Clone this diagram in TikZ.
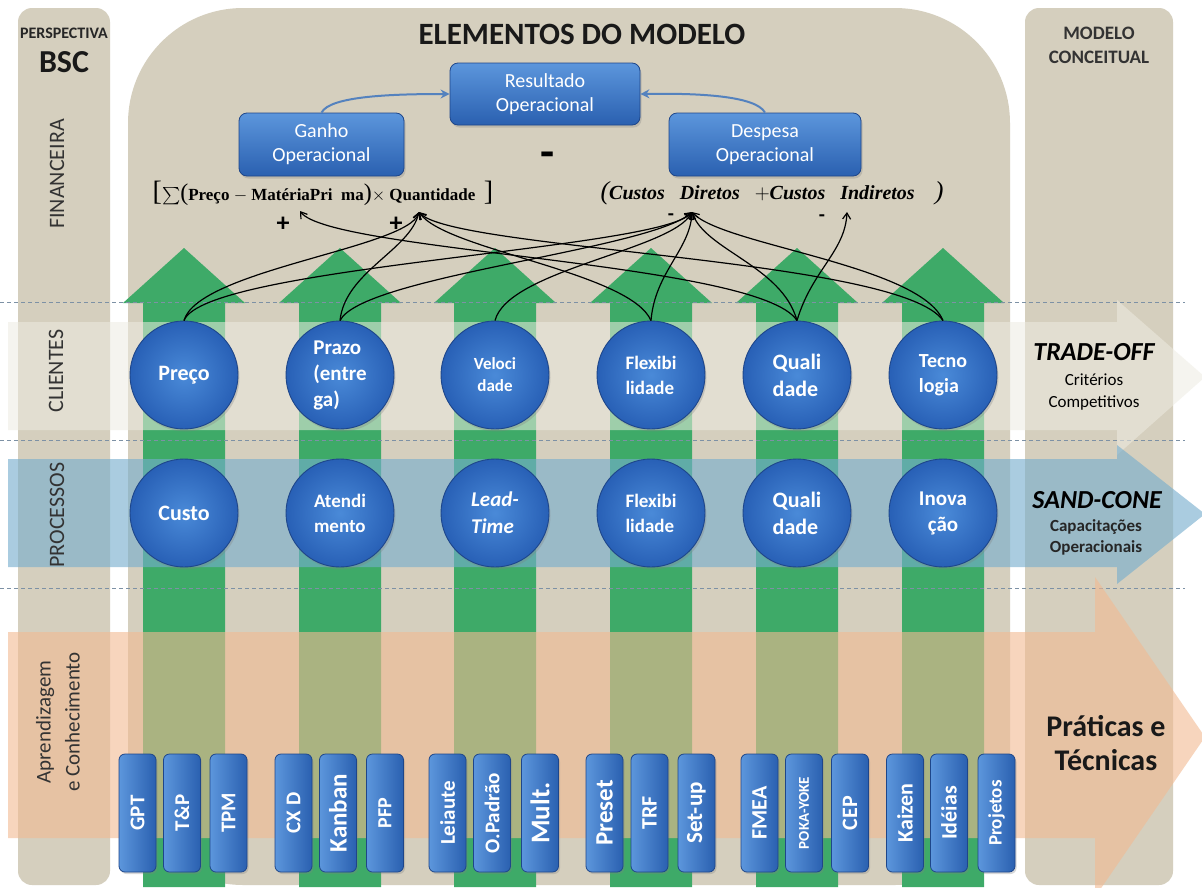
\documentclass[tikz,border=0pt]{standalone}
\usepackage{exscale}
\usepackage{fontspec}
\setmainfont{Carlito}
\newfontfamily\eqfont{Liberation Serif}
\usetikzlibrary{arrows.meta,shadows}

\definecolor{panelbeige}{RGB}{213,207,190}
\definecolor{upgreen}{RGB}{62,170,104}
\definecolor{rowlight}{RGB}{238,236,226}
\definecolor{rowblue}{RGB}{118,174,206}
\definecolor{rowpeach}{RGB}{242,186,146}
\definecolor{boxtop}{RGB}{92,150,220}
\definecolor{boxbot}{RGB}{42,96,176}
\definecolor{boxedge}{RGB}{30,70,138}
\definecolor{ballin}{RGB}{74,138,216}
\definecolor{ballout}{RGB}{40,96,182}
\definecolor{linkblue}{RGB}{84,130,190}
\definecolor{sepgrey}{RGB}{125,145,165}

\newcommand\fs[2]{\fontsize{#1}{#2}\selectfont}
\newcommand\bigdel[2]{{\fontsize{#1}{#1}\selectfont\mdseries #2}}

\tikzset{
  column/.style={fill=panelbeige, rounded corners=14},
  sepline/.style={draw=sepgrey, line width=0.9, dash pattern=on 4pt off 3pt},
  ball/.style={circle, draw=boxedge, line width=0.9, inner color=ballin, outer color=ballout,
    minimum size=108, inner sep=0, text=white, font=\bfseries,
    drop shadow={opacity=0.3, shadow xshift=1.5pt, shadow yshift=-2.5pt}},
  kpi/.style={rectangle, rounded corners=8, draw=boxedge, line width=0.8,
    top color=boxtop, bottom color=boxbot, text=white, align=center,
    font=\fs{20}{24}, inner sep=0,
    drop shadow={opacity=0.3, shadow xshift=1.5pt, shadow yshift=-2.5pt}},
  tool/.style={rectangle, rounded corners=6, draw=boxedge, line width=0.8,
    left color=boxtop, right color=boxbot, text=white, font=\bfseries,
    minimum width=37, minimum height=118, inner sep=0,
    drop shadow={opacity=0.3, shadow xshift=1.5pt, shadow yshift=-2pt}},
  rowlabel/.style={rotate=90, text=black!80, align=center},
  eq/.style={inner sep=0},
  link/.style={-{Straight Barb[length=6pt,width=8pt]}, line width=1.2, black},
  sumlink/.style={-{Stealth[length=9pt,width=9pt]}, line width=2, draw=linkblue},
}

\begin{document}
\begin{tikzpicture}[x=1pt,y=-1pt]
\useasboundingbox (0,0) rectangle (1202,887);
\fill[white] (0,0) rectangle (1202,887);

% columns and central panel
\fill[column] (18,8) rectangle (110,885);
\fill[column] (1025,8) rectangle (1173,885);
\fill[panelbeige, rounded corners=115] (128,8) rectangle (1010,885);

% green upward arrows
\foreach \c in {184,340,495,651,797,943}{
  \fill[upgreen] (\c-41,887) -- (\c-41,303) -- (\c-61,303) -- (\c,248)
     -- (\c+61,303) -- (\c+41,303) -- (\c+41,887) -- cycle;
}

% row separators
\foreach \yy in {302,440,588}{
  \draw[sepline] (0,\yy) -- (1185,\yy);
}

% translucent rows with arrow heads
\fill[rowlight, opacity=0.55] (8,322) -- (1117,322) -- (1117,300) -- (1205,377)
   -- (1117,455) -- (1117,430) -- (8,430) -- cycle;
\fill[rowblue, opacity=0.62] (8,459) -- (1117,459) -- (1117,445) -- (1205,514)
   -- (1117,584) -- (1117,567) -- (8,567) -- cycle;
\fill[rowpeach, opacity=0.6] (8,632) -- (1095,632) -- (1095,577) -- (1205,737)
   -- (1095,897) -- (1095,838) -- (8,838) -- cycle;

% left column labels
\node[font=\bfseries\fs{16}{19}, text=black!85] (persp) at (64,33) {PERSPECTIVA};
\node[font=\bfseries\fs{32}{36}, text=black!90] (bsc) at (64,62) {BSC};
\node[rowlabel, font=\fs{22}{26}] (fin) at (57,174) {FINANCEIRA};
\node[rowlabel, font=\fs{22}{26}] (cli) at (56,371) {CLIENTES};
\node[rowlabel, font=\fs{22}{26}] (proc) at (57,515) {PROCESSOS};
\node[rowlabel, font=\fs{21}{29}] (apr) at (58,722) {Aprendizagem\\e Conhecimento};

% right column labels
\node[font=\bfseries\fs{19}{23}, text=black!80] (mod) at (1099,33) {MODELO};
\node[font=\bfseries\fs{19}{23}, text=black!80] (conc) at (1099,57) {CONCEITUAL};
\node[font=\bfseries\itshape\fs{26}{30}] (trade) at (1094,352) {TRADE-OFF};
\node[font=\fs{17}{21}] (crit) at (1094,380) {Critérios};
\node[font=\fs{17}{21}] (comp) at (1094,403) {Competitivos};
\node[font=\bfseries\itshape\fs{26}{30}] (sand) at (1097,500) {SAND-CONE};
\node[font=\bfseries\fs{17}{20}, text=black!85] (capac) at (1096,527) {Capacitações};
\node[font=\bfseries\fs{17}{20}, text=black!85] (opera) at (1096,548) {Operacionais};
\node[font=\bfseries\fs{30}{34}, align=center, text=black!90] (prat) at (1106,743) {Práticas e\\Técnicas};

% title and financial boxes
\node[font=\bfseries\fs{31}{36}, text=black!90] (title) at (582,34) {ELEMENTOS DO MODELO};
\node[kpi, minimum width=190, minimum height=62] (res) at (545,94) {Resultado\\Operacional};
\node[kpi, minimum width=165, minimum height=63] (gan) at (321.5,144.5) {Ganho\\Operacional};
\node[kpi, minimum width=192, minimum height=63] (desp) at (765,144.5) {Despesa\\Operacional};
\node[font=\bfseries\fs{46}{46}] (minus) at (548,160) {-};
\draw[sumlink] (gan.north) .. controls (330,96) and (392,94) .. (res.west);
\draw[sumlink] (desp.north) .. controls (756,96) and (700,93) .. (res.east);

% formulas
\node[eq, font=\eqfont\bfseries\fs{17}{20}] (sumeq) at (323,193)
  {\bigdel{28}{[}$\sum$\bigdel{24}{(}Preço $-$ MatériaPri\ \ ma\bigdel{24}{)}$\times$ Quantidade\ \ \bigdel{28}{]}};
\node[eq, font=\eqfont\bfseries\itshape\fs{20}{23}] (costeq) at (772,193)
  {\bigdel{26}{(}Custos\ \ \ Diretos\ \ \ $+$Custos\ \ \ Indiretos\ \ \ \ \bigdel{26}{)}};
\node[font=\bfseries\fs{26}{26}] (plusA) at (283,224) {+};
\node[font=\bfseries\fs{26}{26}] (plusB) at (396,224) {+};
\node[font=\bfseries\fs{20}{20}] (minC) at (671,217) {-};
\node[font=\bfseries\fs{20}{20}] (minD) at (822,218) {-};
\coordinate (A) at (300,211);
\coordinate (B) at (419,212);
\coordinate (C) at (692,212);
\coordinate (D) at (847,212);

% competitive criteria
\node[ball, font=\bfseries\fs{22}{26}] (c1) at (184,375) {Preço};
\node[ball, font=\bfseries\fs{21}{26}, align=left] (c2) at (340,375) {Prazo\\(entre\\ga)};
\node[ball, font=\bfseries\fs{17}{22}, align=center] (c3) at (495,375) {Veloci\\dade};
\node[ball, font=\bfseries\fs{19}{25}, align=left] (c4) at (651,375) {Flexibi\\lidade};
\node[ball, font=\bfseries\fs{22}{27}, align=left] (c5) at (797,375) {Quali\\dade};
\node[ball, font=\bfseries\fs{20}{25}, align=left] (c6) at (943,375) {Tecno\\logia};

% operational capabilities
\node[ball, font=\bfseries\fs{22}{26}] (p1) at (184,513) {Custo};
\node[ball, font=\bfseries\fs{19}{25}, align=left] (p2) at (340,513) {Atendi\\mento};
\node[ball, font=\bfseries\itshape\fs{21}{27}, align=left] (p3) at (495,513) {Lead-\\Time};
\node[ball, font=\bfseries\fs{19}{25}, align=left] (p4) at (651,513) {Flexibi\\lidade};
\node[ball, font=\bfseries\fs{22}{27}, align=left] (p5) at (797,513) {Quali\\dade};
\node[ball, font=\bfseries\fs{21}{26}, align=center] (p6) at (943,513) {Inova\\ção};

% practices and techniques
\foreach \xx/\lab/\sz/\nm in {
  137.5/GPT/21/t1, 182/T\&P/21/t2, 228.5/TPM/21/t3,
  293.5/CX D/21/t4, 338/Kanban/25/t5, 385/PFP/20/t6,
  447.5/Leiaute/21/t7, 492/O.Padrão/21/t8, 540/Mult./27/t9,
  604.5/Preset/25/t10, 649.5/TRF/22/t11, 696.5/Set-up/23/t12,
  759.5/FMEA/22/t13, 804/POKA-YOKE/15/t14, 850/CEP/22/t15,
  905/Kaizen/22/t16, 949/Idéias/22/t17, 996.5/Projetos/19/t18}{
  \node[tool] (\nm) at (\xx,813) {\fs{\sz}{\sz}\rotatebox{90}{\lab}};
}

% links from criteria to the financial terms
\draw[link] (c1.north) .. controls (198,270) and (408,248) .. (B);
\draw[link] (c1.north) .. controls (205,266) and (660,250) .. (C);
\draw[link] (c2.north) .. controls (345,272) and (410,250) .. (B);
\draw[link] (c2.north) .. controls (362,276) and (650,250) .. (C);
\draw[link] (c3.north) .. controls (508,270) and (672,250) .. (C);
\draw[link] (c4.north) .. controls (655,272) and (690,250) .. (C);
\draw[link] (c4.north) .. controls (630,272) and (445,250) .. (B);
\draw[link] (c5.north) .. controls (782,266) and (705,250) .. (C);
\draw[link] (c5.north) .. controls (812,270) and (845,252) .. (D);
\draw[link] (c5.north) .. controls (760,262) and (330,252) .. (A);
\draw[link] (c6.north) .. controls (920,265) and (722,245) .. (C);
\draw[link] (c6.north) .. controls (900,258) and (452,250) .. (B);
\end{tikzpicture}
\end{document}
